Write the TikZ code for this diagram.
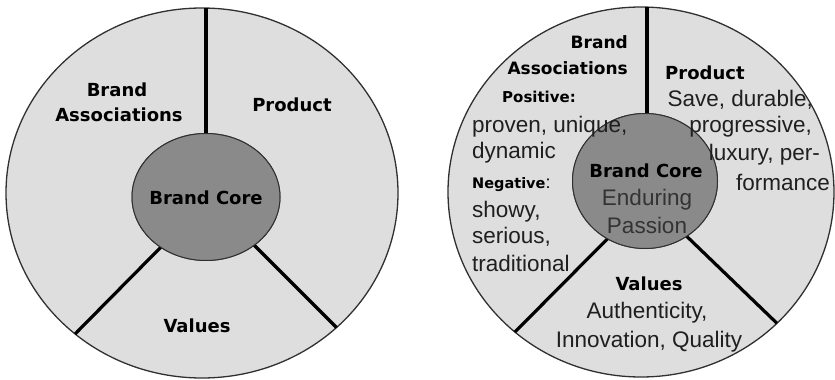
\documentclass[tikz,border=0pt]{standalone}
\usepackage{fontspec}
\setmainfont{Liberation Sans}
\newfontfamily\bfont{DejaVu Sans}[BoldFont={DejaVu Sans Bold}]
\usetikzlibrary{shapes.geometric}
\definecolor{outerfill}{HTML}{DEDEDE}
\definecolor{innerfill}{HTML}{8A8A8A}
\definecolor{rimcol}{HTML}{303030}
\tikzset{
  outerring/.style={ellipse, draw=rimcol, line width=1.3pt, fill=outerfill, inner sep=0pt, outer sep=0pt},
  corering/.style={ellipse, draw=rimcol, line width=1pt, fill=innerfill, inner sep=0pt, outer sep=0pt},
  divider/.style={line width=3.2pt, black},
  bl/.style={inner sep=0pt, font=\bfont\bfseries\fontsize{18}{20}\selectfont},
  bm/.style={inner sep=0pt, font=\bfont\bfseries\fontsize{17}{19}\selectfont},
  bs/.style={inner sep=0pt, font=\bfont\bfseries\fontsize{15}{17}\selectfont},
  rg/.style={inner sep=0pt, text=black!88, font=\fontsize{22.5}{25}\selectfont},
}
\begin{document}
\begin{tikzpicture}[x=1pt, y=-1pt]
\useasboundingbox (0,0) rectangle (835,380);
% ---------- left diagram ----------
\node[outerring, minimum width=392pt, minimum height=370pt] (oL) at (202,193) {};
\node[corering, minimum width=148pt, minimum height=127pt] (cL) at (206,197) {};
\coordinate (tL) at (cL.north |- oL.north);
\draw[divider] (cL.north) -- (tL);
\draw[divider] (cL.228) -- (oL.228);
\draw[divider] (cL.315) -- (oL.315);
\node[corering, minimum width=148pt, minimum height=127pt] (cL2) at (206,197) {};
\node[bl, anchor=base] (bL1) at (117,96) {Brand};
\node[bl, anchor=base] (bL2) at (119,121) {Associations};
\node[bl, anchor=base] (pL) at (292,111) {Product};
\node[bl, anchor=base] (kL) at (206,204) {Brand Core};
\node[bl, anchor=base] (vL) at (197,332) {Values};
% ---------- right diagram ----------
\node[outerring, minimum width=386pt, minimum height=370pt] (oR) at (641,192) {};
\node[corering, minimum width=145pt, minimum height=135pt] (cR) at (645,181) {};
\coordinate (tR) at (647,7);
\coordinate (cRt) at (647,120);
\draw[divider] (cRt) -- (tR);
\draw[divider] (cR.237) -- (oR.228);
\draw[divider] (cR.307) -- (oR.316);
\node[corering, minimum width=145pt, minimum height=135pt] (cR2) at (645,181) {};
% brand associations
\node[bm, anchor=base east] (ba1) at (628,48) {Brand};
\node[bm, anchor=base east] (ba2) at (628,74) {Associations};
\node[bs, anchor=base west] (pos) at (502,102) {Positive:};
\node[rg, anchor=base west] (pos1) at (472,132) {proven, unique,};
\node[rg, anchor=base west] (pos2) at (472,158) {dynamic};
\node[anchor=base west, inner sep=0pt] (neg) at (472,188) {{\bfont\bfseries\fontsize{14.5}{17}\selectfont Negative}{\fontsize{18}{20}\selectfont :}};
\node[rg, anchor=base west] (neg1) at (472,217) {showy,};
\node[rg, anchor=base west] (neg2) at (472,243) {serious,};
\node[rg, anchor=base west] (neg3) at (472,271) {traditional};
% product
\node[bl, anchor=base west] (pr) at (665,79) {Product};
\node[rg, anchor=base east] (pr1) at (813,106) {Save, durable,};
\node[rg, anchor=base east] (pr2) at (812,132) {progressive,};
\node[rg, anchor=base east] (pr3) at (820,160) {luxury, per-};
\node[rg, anchor=base east] (pr4) at (830,190) {formance};
% core
\node[bl, anchor=base] (kR) at (646,177) {Brand Core};
\node[rg, anchor=base, text=black!80] (kR1) at (647,205) {Enduring};
\node[rg, anchor=base, text=black!80] (kR2) at (647,233) {Passion};
% values
\node[bl, anchor=base] (vR) at (649,290) {Values};
\node[rg, anchor=base] (vR1) at (647,318) {Authenticity,};
\node[rg, anchor=base] (vR2) at (649,347) {Innovation, Quality};
\end{tikzpicture}
\end{document}
